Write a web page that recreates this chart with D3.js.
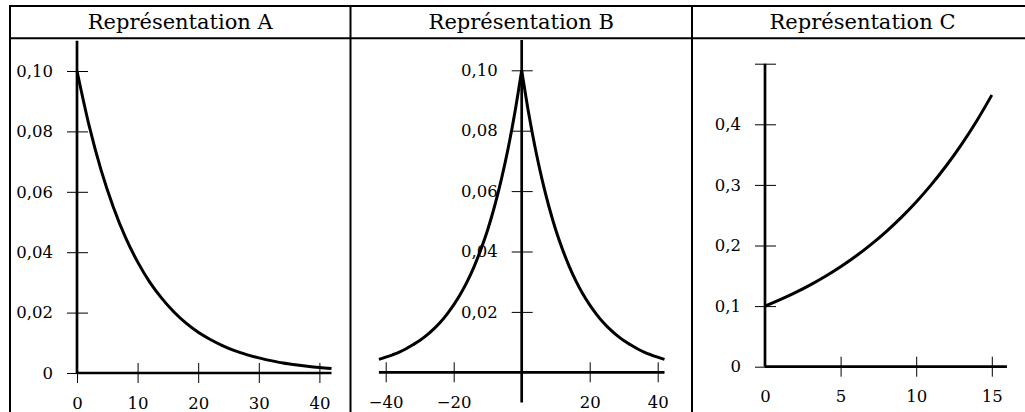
<!DOCTYPE html>
<html lang="fr">
<head>
<meta charset="UTF-8">
<title>Représentations</title>
<style>
  body{margin:0;background:#fff;}
  svg{display:block;font-family:"DejaVu Serif",serif;}
  .frame{stroke:#000;stroke-width:2;fill:none;}
  .title{font-size:21px;text-anchor:middle;}
  .axis text{font-size:16.5px;font-family:"DejaVu Serif",serif;fill:#000;}
  .axis line{stroke:#000;stroke-width:1;}
  .axis path{display:none;}
  .main{stroke:#000;stroke-width:2.7;fill:none;}
  .curve{stroke:#000;stroke-width:3;fill:none;}
</style>
</head>
<body>
<script src="https://cdn.jsdelivr.net/npm/d3@7"></script>
<script>
// titres des colonnes
var titles = ["Représentation A", "Représentation B", "Représentation C"];

// courbe A
var aX = [0,2,4,6,8,10,12,14,16,18,20,22,24,26,28,30,32,34,36,38,40,42];
var aY = [0.100,0.0819,0.0670,0.0549,0.0449,0.0368,0.0301,0.0247,0.0202,0.0165,0.0135,
          0.0111,0.0091,0.0074,0.0061,0.0050,0.0041,0.0033,0.0027,0.0022,0.0018,0.0015];
var aXTicks = [0,10,20,30,40];
var aXLabels = [0,10,20,30,40];
var aYTicks = [0,0.02,0.04,0.06,0.08,0.10];

// courbe B (symétrique, pointe en 0)
var bX = [-42,-40,-38,-36,-34,-32,-30,-28,-26,-24,-22,-20,-18,-16,-14,-12,-10,-8,-6,-4,-2,0,
          2,4,6,8,10,12,14,16,18,20,22,24,26,28,30,32,34,36,38,40,42];
var bY = [0.0043,0.0050,0.0058,0.0067,0.0078,0.0091,0.0105,0.0122,0.0142,0.0165,0.0192,0.0223,
          0.0259,0.0301,0.0350,0.0407,0.0472,0.0549,0.0638,0.0741,0.0861,0.100,
          0.0861,0.0741,0.0638,0.0549,0.0472,0.0407,0.0350,0.0301,0.0259,0.0223,0.0192,0.0165,
          0.0142,0.0122,0.0105,0.0091,0.0078,0.0067,0.0058,0.0050,0.0043];
var bXTicks = [-40,-20,20,40];
var bXLabels = [-40,-20,20,40];
var bYTicks = [0.02,0.04,0.06,0.08,0.10];

// courbe C
var cX = [0,1,2,3,4,5,6,7,8,9,10,11,12,13,14,15];
var cY = [0.100,0.1105,0.1221,0.1350,0.1492,0.1649,0.1822,0.2014,0.2226,0.2460,0.2718,
          0.3004,0.3320,0.3669,0.4055,0.4482];
var cXTicks = [5,10,15];
var cXLabels = [0,5,10,15];
var cYTicks = [0,0.1,0.2,0.3,0.4,0.5];
var cYLabels = [0,0.1,0.2,0.3,0.4];

var W = 1025, H = 412;
var svg = d3.select("body").append("svg").attr("width", W).attr("height", H);

// tableau
var colX = [10, 350.5, 692, 1033];
svg.append("line").attr("class","frame").attr("x1",9).attr("x2",W).attr("y1",6).attr("y2",6);
svg.append("line").attr("class","frame").attr("x1",9).attr("x2",W).attr("y1",38.3).attr("y2",38.3);
colX.slice(0,3).forEach(function(x){
  svg.append("line").attr("class","frame").attr("x1",x).attr("x2",x).attr("y1",5).attr("y2",H);
});
titles.forEach(function(t,i){
  svg.append("text").attr("class","title")
    .attr("x",(colX[i]+colX[i+1])/2).attr("y",29).text(t);
});

function frFmt(dec){
  return function(d){ return d === 0 ? "0" : d3.format("." + dec + "f")(d).replace(".", ","); };
}

function panel(o){
  var g = svg.append("g");
  var x = o.x, y = o.y;
  var x0 = x(0), y0 = y(0);

  // axe des ordonnées
  var ya = g.append("g").attr("class","axis")
    .attr("transform","translate(" + x0 + ",0)")
    .call(d3.axisLeft(y).tickValues(o.yTicks).tickSize(10).tickPadding(14)
      .tickFormat(function(d){ return o.yLabels.indexOf(d) >= 0 ? o.yFmt(d) : ""; }));
  ya.selectAll(".tick line").attr("x1", 11);

  // axe des abscisses
  var xvals = d3.union(o.xTicks, o.xLabels);
  var xa = g.append("g").attr("class","axis")
    .attr("transform","translate(0," + y0 + ")")
    .call(d3.axisBottom(x).tickValues(Array.from(xvals)).tickSize(10).tickPadding(14)
      .tickFormat(function(d){ return o.xLabels.indexOf(d) >= 0 ? d3.format("d")(d) : ""; }));
  xa.selectAll(".tick line").attr("y1", -10)
    .style("display", function(d){ return o.xTicks.indexOf(d) >= 0 ? null : "none"; });

  g.append("line").attr("class","main")
    .attr("x1", x0).attr("x2", x0).attr("y1", o.yTop).attr("y2", o.yBot);
  g.append("line").attr("class","main")
    .attr("x1", x(o.xMin)).attr("x2", x(o.xMax)).attr("y1", y0).attr("y2", y0);

  var line = d3.line().x(function(d){ return x(d[0]); }).y(function(d){ return y(d[1]); })
    .curve(d3.curveMonotoneX);
  o.parts.forEach(function(p){
    g.append("path").attr("class","curve").datum(p).attr("d", line);
  });
}

function pts(xs, ys, keep){
  return xs.map(function(v,i){ return [v, ys[i]]; }).filter(function(d){ return keep(d[0]); });
}

// A
var axScale = d3.scaleLinear().domain([0,42]).range([77, 77 + 42*6.06]);
var ayScale = d3.scaleLinear().domain([0,0.11]).range([373, 373 - 0.11*3020]);
panel({x:axScale, y:ayScale, xTicks:aXTicks, xLabels:aXLabels, yTicks:aYTicks, yLabels:aYTicks,
  yFmt:frFmt(2), xMin:0, xMax:42, yTop:ayScale(0.11), yBot:373,
  parts:[pts(aX,aY,function(){return true;})]});

// B
var bxScale = d3.scaleLinear().domain([-42,42]).range([521.7 - 42*3.4, 521.7 + 42*3.4]);
var byScale = d3.scaleLinear().domain([-0.01,0.11]).range([372.3 + 0.01*3020, 372.3 - 0.11*3020]);
panel({x:bxScale, y:byScale, xTicks:bXTicks, xLabels:bXLabels, yTicks:bYTicks, yLabels:bYTicks,
  yFmt:frFmt(2), xMin:-42, xMax:42, yTop:byScale(0.11), yBot:byScale(-0.01),
  parts:[pts(bX,bY,function(v){return v<=0;}), pts(bX,bY,function(v){return v>=0;})]});

// C
var cxScale = d3.scaleLinear().domain([0,16]).range([765, 765 + 16*15.12]);
var cyScale = d3.scaleLinear().domain([0,0.5]).range([366.7, 366.7 - 0.5*606]);
panel({x:cxScale, y:cyScale, xTicks:cXTicks, xLabels:cXLabels, yTicks:cYTicks, yLabels:cYLabels,
  yFmt:frFmt(1), xMin:0, xMax:16, yTop:cyScale(0.5), yBot:366.7,
  parts:[pts(cX,cY,function(){return true;})]});
</script>
</body>
</html>
